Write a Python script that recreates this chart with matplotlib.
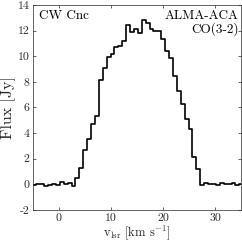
import numpy as np
import matplotlib
matplotlib.use("Agg")
import matplotlib.pyplot as plt

# Data (channel centres in km/s, flux in Jy)
dv = 0.75
v_start = -5.08
flux = [
    -0.05, 0.05, 0.05, -0.10, -0.05, 0.00, -0.05, 0.15, 0.00, 0.10, -0.10,
    0.47, 1.26, 2.70, 3.50, 4.70, 5.30, 8.15, 9.10, 9.95, 10.20, 10.70,
    10.80, 11.20, 12.45, 11.85, 12.10, 11.80, 12.85, 12.60, 12.15, 12.00,
    12.00, 11.35, 10.40, 9.85, 8.45, 7.30, 6.25, 5.10, 4.30, 2.15, 1.20,
    -0.05, 0.10, 0.05, 0.00, -0.05, 0.10, 0.05, 0.00, 0.10, -0.05, 0.05,
]
velocity = [v_start + dv * (i + 0.5) for i in range(len(flux))]

xticks = [0, 10, 20, 30]
yticks = [-2, 0, 2, 4, 6, 8, 10, 12, 14]

plt.rcParams['font.family'] = 'serif'
plt.rcParams['font.serif'] = ['cmr10', 'DejaVu Serif']
plt.rcParams['mathtext.fontset'] = 'cm'
plt.rcParams['axes.unicode_minus'] = False
plt.rcParams['axes.formatter.use_mathtext'] = True

fig = plt.figure(figsize=(2.42, 2.45), dpi=100)
ax = fig.add_axes([0.136, 0.143, 0.860, 0.837])

ax.plot(velocity, flux, drawstyle='steps-mid', color='black', lw=1.2)

ax.set_xlim(-5, 35)
ax.set_ylim(-2, 14)
ax.set_xticks(xticks)
ax.set_yticks(yticks)
ax.set_xticklabels([str(t) for t in xticks])
ax.set_yticklabels([str(t) for t in yticks])
ax.tick_params(direction='in', top=True, right=True, labelsize=8.5,
               length=2.5, width=0.5, color='#262626', labelcolor='#262626', pad=2.5)
for s in ax.spines.values():
    s.set_linewidth(0.5)
    s.set_color('#262626')

ax.set_xlabel(r'v$_{\rm lsr}$ [km s$^{-1}$]', fontsize=9, labelpad=0, color='#262626')
ax.set_ylabel('Flux [Jy]', fontsize=11.5, labelpad=1, color='#262626')

ax.text(0.03, 0.975, 'CW Cnc', transform=ax.transAxes, ha='left', va='top', fontsize=9.5)
ax.text(0.99, 0.975, 'ALMA-ACA\nCO(3-2)', transform=ax.transAxes, ha='right', va='top',
        fontsize=9.5, linespacing=1.0, multialignment='right')

fig.savefig('out.png', dpi=100)
